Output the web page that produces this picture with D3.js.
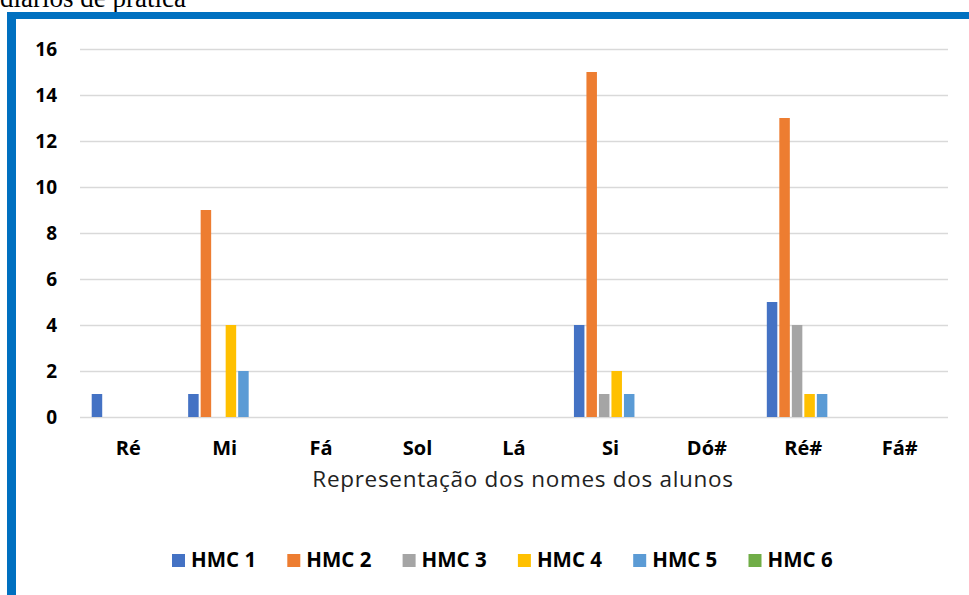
<!DOCTYPE html>
<html>
<head>
<meta charset="utf-8">
<script src="https://cdn.jsdelivr.net/npm/d3@7"></script>
<style>
  html, body { margin: 0; padding: 0; background: #ffffff; }
  svg { display: block; }
</style>
</head>
<body>
<svg id="chart" width="969" height="595"></svg>
<script>
// Note names on the x axis
const categories = ["Ré", "Mi", "Fá", "Sol", "Lá", "Si", "Dó#", "Ré#", "Fá#"];
// Series names (legend)
const seriesNames = ["HMC 1", "HMC 2", "HMC 3", "HMC 4", "HMC 5", "HMC 6"];
// Counts per series, one value per note
const hmc1 = [1, 1, 0, 0, 0, 4, 0, 5, 0];
const hmc2 = [0, 9, 0, 0, 0, 15, 0, 13, 0];
const hmc3 = [0, 0, 0, 0, 0, 1, 0, 4, 0];
const hmc4 = [0, 4, 0, 0, 0, 2, 0, 1, 0];
const hmc5 = [0, 2, 0, 0, 0, 1, 0, 1, 0];
const hmc6 = [0, 0, 0, 0, 0, 0, 0, 0, 0];
const yTicks = [0, 2, 4, 6, 8, 10, 12, 14, 16];
const seriesColors = ["#4472C4", "#ED7D31", "#A5A5A5", "#FFC000", "#5B9BD5", "#70AD47"];
const axisTitle = "Representação dos nomes dos alunos";
const captionText = "diários de prática";

const seriesValues = [hmc1, hmc2, hmc3, hmc4, hmc5, hmc6];

const svg = d3.select("#chart");
const font = "'Open Sans', 'DejaVu Sans', sans-serif";

// Caption line above the framed chart (its upper part runs off the page)
svg.append("text")
  .attr("x", 0).attr("y", 7)
  .attr("font-family", "'Liberation Serif', 'Times New Roman', serif")
  .attr("font-size", 27)
  .attr("fill", "#000")
  .text(captionText);

// Blue frame around the chart
svg.append("rect").attr("x", 7).attr("y", 12).attr("width", 962).attr("height", 7).attr("fill", "#0070C0");
svg.append("rect").attr("x", 7).attr("y", 12).attr("width", 9).attr("height", 583).attr("fill", "#0070C0");

const plotLeft = 80, plotRight = 948, plotTop = 49, plotBottom = 417;

const x0 = d3.scaleBand()
  .domain(categories)
  .range([plotLeft, plotRight])
  .paddingInner(0.222)
  .paddingOuter(0.111);

const x1 = d3.scaleBand()
  .domain(seriesNames)
  .range([0, x0.bandwidth()])
  .paddingInner(0.16)
  .paddingOuter(0.08);

const y = d3.scaleLinear().domain([0, 16]).range([plotBottom, plotTop]);

// Horizontal gridlines
svg.append("g")
  .selectAll("line")
  .data(yTicks)
  .join("line")
  .attr("x1", plotLeft).attr("x2", plotRight)
  .attr("y1", d => Math.round(y(d)) + 0.5)
  .attr("y2", d => Math.round(y(d)) + 0.5)
  .attr("stroke", "#d9d9d9")
  .attr("stroke-width", 1.5);

// Y tick labels
svg.append("g")
  .selectAll("text")
  .data(yTicks)
  .join("text")
  .attr("x", 57)
  .attr("y", d => y(d))
  .attr("dy", "0.36em")
  .attr("text-anchor", "end")
  .attr("font-family", font)
  .attr("font-weight", "bold")
  .attr("font-size", 19)
  .attr("fill", "#000")
  .text(d => d);

// Bars
const groups = svg.append("g")
  .selectAll("g")
  .data(categories)
  .join("g")
  .attr("transform", c => `translate(${x0(c)},0)`);

groups.selectAll("rect")
  .data((c, i) => seriesNames.map((s, k) => ({ s, k, v: seriesValues[k][i] })))
  .join("rect")
  .attr("x", d => x1(d.s))
  .attr("width", x1.bandwidth())
  .attr("y", d => y(d.v))
  .attr("height", d => y(0) - y(d.v))
  .attr("fill", d => seriesColors[d.k]);

// Category labels
svg.append("g")
  .selectAll("text")
  .data(categories)
  .join("text")
  .attr("x", c => x0(c) + x0.bandwidth() / 2)
  .attr("y", 455)
  .attr("text-anchor", "middle")
  .attr("font-family", font)
  .attr("font-weight", "bold")
  .attr("font-size", 20)
  .attr("fill", "#000")
  .text(c => c);

// Axis title
svg.append("text")
  .attr("x", 523)
  .attr("y", 487)
  .attr("text-anchor", "middle")
  .attr("font-family", font)
  .attr("font-size", 22.5)
  .attr("letter-spacing", 0.7)
  .attr("fill", "#222")
  .text(axisTitle);

// Legend
const legendX = d3.scaleBand()
  .domain(seriesNames)
  .range([172, 172 + 6 * 115.3]);

const legend = svg.append("g")
  .selectAll("g")
  .data(seriesNames)
  .join("g")
  .attr("transform", s => `translate(${legendX(s)},554)`);

legend.append("rect")
  .attr("width", 13).attr("height", 13)
  .attr("fill", (s, k) => seriesColors[k]);

legend.append("text")
  .attr("x", 19)
  .attr("y", 13)
  .attr("font-family", font)
  .attr("font-weight", "bold")
  .attr("font-size", 20.5)
  .attr("fill", "#000")
  .text(s => s);
</script>
</body>
</html>
